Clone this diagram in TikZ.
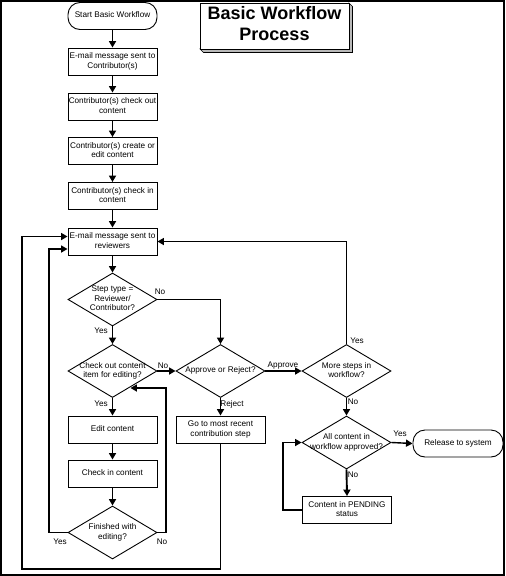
\documentclass[tikz,border=0pt]{standalone}
\usepackage{fontspec}
\setmainfont{Liberation Sans}
\usetikzlibrary{shapes.geometric,arrows.meta,calc}
\newcommand{\zt}[1]{\makebox[0pt]{\begin{tabular}{@{}c@{}}#1\end{tabular}}}
\begin{document}
\begin{tikzpicture}[x=1pt,y=-1pt,
  txt/.style={font=\fontsize{8.2}{9.4}\selectfont},
  box/.style={txt,draw,rectangle,minimum width=89pt,minimum height=27pt,inner sep=0pt,line width=0.9pt},
  term/.style={box,rounded corners=12pt},
  dia/.style={txt,draw,diamond,aspect=1.68,minimum width=89pt,minimum height=53pt,inner sep=0pt,line width=0.9pt},
  lbl/.style={txt,inner sep=0pt},
  arr/.style={line width=1.9pt,-{Triangle[length=6.5pt,width=7pt]}}]
\useasboundingbox (0,0) rectangle (506,576);
% title with 3D shadow
\filldraw[fill=gray!55,draw=black,line width=0.6pt] (349,3)--(352.5,6.5)--(352.5,52.5)--(203.5,52.5)--(200,49)--(349,49)--cycle;
\node[draw,fill=white,line width=0.9pt,minimum width=149pt,minimum height=46pt,inner sep=0pt,
  font=\fontsize{18}{21}\selectfont\bfseries] (title) at (274.5,26) {\zt{Basic Workflow\\Process}};
% main column
\node[term] (start) at (112.5,16) {\zt{Start Basic Workflow}};
\node[box] (e1) at (112.5,61.5) {\zt{E-mail message sent to\\Contributor(s)}};
\node[box] (c1) at (112.5,106.5) {\zt{Contributor(s) check out\\content}};
\node[box] (c2) at (112.5,151) {\zt{Contributor(s) create or\\edit content}};
\node[box] (c3) at (112.5,196) {\zt{Contributor(s) check in\\content}};
\node[box] (rev) at (112.5,241.5) {\zt{E-mail message sent to\\reviewers}};
\node[dia] (d1) at (112.5,299.5) {\zt{Step type =\\Reviewer/\\Contributor?}};
\node[dia] (d2) at (112.5,371) {\zt{Check out content\\item for editing?}};
\node[dia] (ar) at (220.5,371) {\zt{Approve or Reject?}};
\node[dia] (ms) at (346.5,371) {\zt{More steps in\\workflow?}};
\node[box] (edit) at (112.5,429.5) {\zt{Edit content}};
\node[box] (chk) at (112.5,473.5) {\zt{Check in content}};
\node[dia] (fin) at (112.5,532.5) {\zt{Finished with\\editing?}};
\node[box] (go) at (220.5,429.5) {\zt{Go to most recent\\contribution step}};
\node[dia] (all) at (346.5,442.5) {\zt{All content in\\workflow approved?}};
\node[term] (rel) at (458,443.5) [minimum width=90pt] {\zt{Release to system}};
\node[box] (pend) at (347,510) {\zt{Content in PENDING\\status}};
% connectors
\draw[arr] (start) -- (e1);
\draw[arr] (e1) -- (c1);
\draw[arr] (c1) -- (c2);
\draw[arr] (c2) -- (c3);
\draw[arr] (c3) -- (rev);
\draw[arr] (rev) -- (d1);
\draw[arr] (d1.south) -- (d2.north);
\draw[arr] (d1.east) -| (ar.north);
\draw[arr] (d2.east) -- (ar.west);
\draw[arr] (ar.east) -- (ms.west);
\draw[arr] (ms.north) |- (rev.east);
\draw[arr] (ms.south) -- (all.north);
\draw[arr] (ar.south) -- (go.north);
\draw[arr] (d2.south) -- (edit.north);
\draw[arr] (edit) -- (chk);
\draw[arr] (chk) -- (fin.north);
\coordinate (backpt) at ($(d2.south)!0.40!(d2.east)$);
\draw[arr] (fin.east) -- (166,532.5) -- (166,388) -- (backpt |- 0,388);
\draw[arr] (fin.west) -- (49,532.5) -- (49,249) -- ($(rev.west)+(0,7.5)$);
\draw[arr] (go.south) -- (220.5,569) -- (22,569) -- (22,236.5) -- ($(rev.west)+(0,-5)$);
\draw[arr,line width=1.4pt] (all.east) -- (rel.west);
\draw[arr] (all.south) -- (pend.north);
\draw[arr] (pend.west) -- (283,510) -- (283,442.5) -- (all.west);
% labels
\node[lbl] (lno1) at (160,292) {No};
\node[lbl] (lyes1) at (101,331) {Yes};
\node[lbl] (lno2) at (163,365.5) {No};
\node[lbl] (lapp) at (283,365.5) {Approve};
\node[lbl] (lyes2) at (357,341) {Yes};
\node[lbl] (lyes3) at (101,404) {Yes};
\node[lbl] (lrej) at (232,404) {Reject};
\node[lbl] (lno3) at (353,402) {No};
\node[lbl] (lyes4) at (400,434) {Yes};
\node[lbl] (lno4) at (353,475) {No};
\node[lbl] (lno5) at (162,541.5) {No};
\node[lbl] (lyes5) at (60,541.5) {Yes};
% frame
\draw[line width=2pt] (1,1) rectangle (504,574.5);
\end{tikzpicture}
\end{document}
